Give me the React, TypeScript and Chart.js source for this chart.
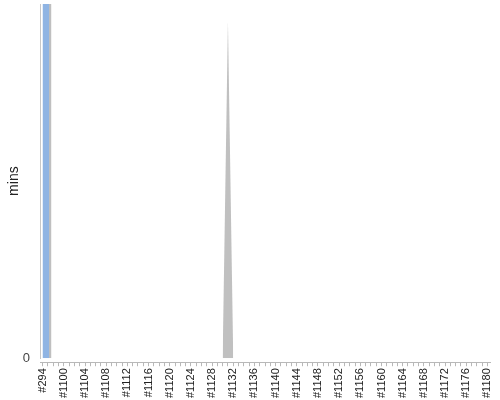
import { useEffect, useRef } from "react";
import { Chart, registerables } from "chart.js";

Chart.register(...registerables);

const categories = [
  "#294", "#1097", "#1098", "#1099", "#1100", "#1101", "#1102", "#1103",
  "#1104", "#1105", "#1106", "#1107", "#1108", "#1109", "#1110", "#1111",
  "#1112", "#1113", "#1114", "#1115", "#1116", "#1117", "#1118", "#1119",
  "#1120", "#1121", "#1122", "#1123", "#1124", "#1125", "#1126", "#1127",
  "#1128", "#1129", "#1130", "#1131", "#1132", "#1133", "#1134", "#1135",
  "#1136", "#1137", "#1138", "#1139", "#1140", "#1141", "#1142", "#1143",
  "#1144", "#1145", "#1146", "#1147", "#1148", "#1149", "#1150", "#1151",
  "#1152", "#1153", "#1154", "#1155", "#1156", "#1157", "#1158", "#1159",
  "#1160", "#1161", "#1162", "#1163", "#1164", "#1165", "#1166", "#1167",
  "#1168", "#1169", "#1170", "#1171", "#1172", "#1173", "#1174", "#1175",
  "#1176", "#1177", "#1178", "#1179", "#1180",
];

// blue bar (runs off the top of the axis)
const barCategories = ["#294"];
const barValues = [180];

// grey area spike
const areaCategories = ["#1130", "#1131", "#1132"];
const areaValues = [0, 95, 0];

const yMax = 100;

export default function App() {
  const canvasRef = useRef<HTMLCanvasElement | null>(null);

  useEffect(() => {
    if (!canvasRef.current) {
      return;
    }
    const ctx = canvasRef.current.getContext("2d");
    if (!ctx) {
      return;
    }

    Chart.defaults.font.family = "'Liberation Sans', Arial, sans-serif";

    const chart = new Chart(ctx, {
      type: "bar",
      data: {
        labels: categories,
        datasets: [
          {
            // empty slot so the blue bar sits to the right of its tick
            label: "",
            data: [],
            barThickness: 8.5,
          },
          {
            label: "mins",
            data: barCategories.map((c, i) => ({ x: c, y: barValues[i] })),
            backgroundColor: "#8fb4e3",
            borderColor: "#bfbfbf",
            borderWidth: { right: 2.4 },
            borderSkipped: "start",
            barThickness: 8.5,
          },
          {
            type: "line",
            label: "total",
            data: areaCategories.map((c, i) => ({ x: c, y: areaValues[i] })),
            backgroundColor: "#c0c0c0",
            borderWidth: 0,
            pointRadius: 0,
            tension: 0,
            fill: "origin",
          },
        ],
      },
      options: {
        responsive: true,
        maintainAspectRatio: false,
        animation: false,
        layout: {
          padding: { top: 4, right: 10, bottom: 0, left: 0 },
        },
        plugins: {
          legend: { display: false },
          tooltip: { enabled: false },
        },
        scales: {
          x: {
            weight: 1,
            offset: true,
            grid: {
              display: true,
              drawOnChartArea: false,
              drawTicks: true,
              tickLength: 4,
              offset: false,
              color: "#b8b8b8",
            },
            border: { display: true, color: "#b8b8b8" },
            ticks: {
              autoSkip: false,
              maxRotation: 90,
              minRotation: 90,
              padding: 2,
              color: "#222",
              font: { size: 11 },
              callback: (_v, i) => (i % 4 === 0 ? categories[i] : ""),
            },
            afterFit: (s) => {
              s.paddingLeft = 0;
              s.paddingRight = 0;
            },
          },
          xgap: {
            type: "category",
            position: "bottom",
            weight: 0,
            grid: { display: false },
            border: { display: false },
            ticks: { display: false },
            afterFit: (s) => {
              s.height = 4;
            },
          },
          y: {
            min: 0,
            max: yMax,
            grid: { display: false },
            border: { display: true, color: "#c8c8c8" },
            ticks: {
              padding: 2,
              color: "#444",
              font: { size: 13 },
              callback: (v) => (v === 0 ? "0" : null),
            },
            afterBuildTicks: (s) => {
              s.ticks = s.ticks.filter((t) => t.value === 0);
            },
            title: {
              display: true,
              text: "mins",
              color: "#222",
              font: { size: 14 },
              padding: { top: 6, bottom: 0 },
            },
            afterFit: (s) => {
              s.width = 40;
              s.paddingTop = 0;
              s.paddingBottom = 0;
            },
          },
        },
      },
    });

    return () => {
      chart.destroy();
    };
  }, []);

  return (
    <div
      style={{
        position: "absolute",
        left: 0,
        top: 0,
        width: "500px",
        height: "400px",
        background: "#fff",
      }}
    >
      <canvas ref={canvasRef}></canvas>
    </div>
  );
}
